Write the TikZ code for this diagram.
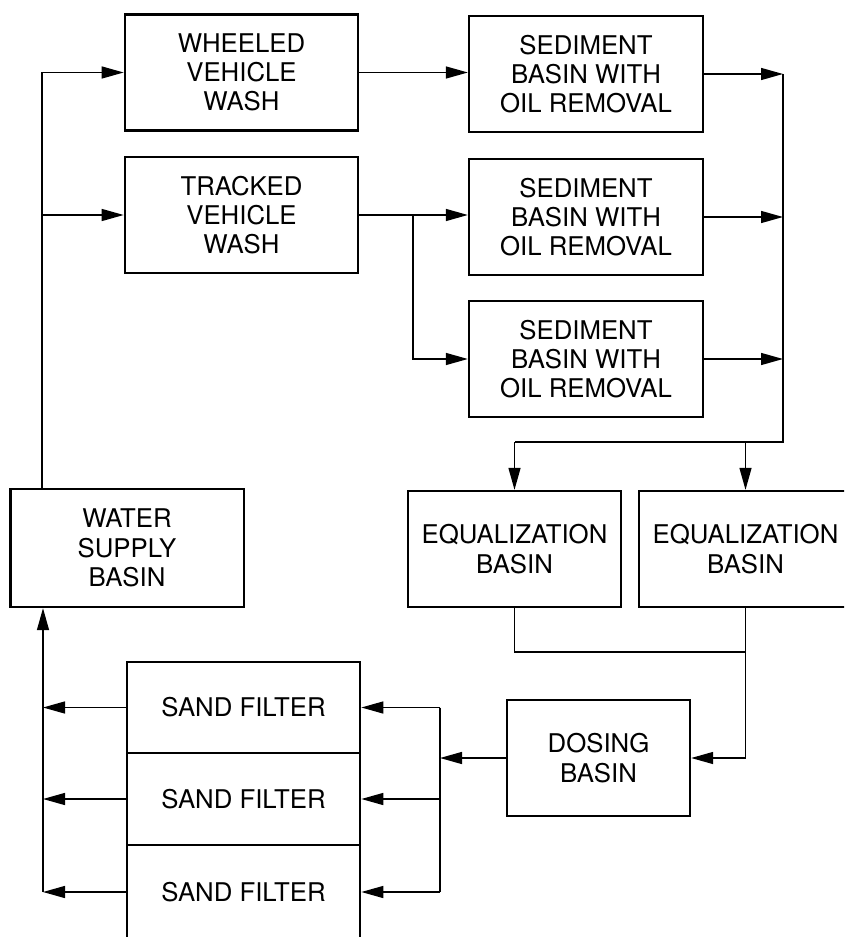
\documentclass[tikz,border=0pt]{standalone}
\usepackage{fontspec}
\setmainfont{TeX Gyre Heros}
\usetikzlibrary{arrows.meta}
\tikzset{
    box/.style={draw, line width=2pt, align=center, inner sep=0pt,
        minimum width=7cm, minimum height=3.48cm,
        font=\fontsize{22}{25}\selectfont},
    pipe/.style={line width=1.2pt},
    flow/.style={pipe, -{Triangle[length=6.6mm, width=3.6mm]}},
}
\begin{document}
\begin{tikzpicture}[x=0.03cm, y=-0.03cm]
    \useasboundingbox (0,0) rectangle (844,937);
    \clip (0,0) rectangle (844,937);
    % 洗车
    \node[box] (wheeled) at (241.5,72.5) {WHEELED\\VEHICLE\\WASH};
    \node[box] (tracked) at (241.5,215) {TRACKED\\VEHICLE\\WASH};
    % 沉淀池
    \node[box, minimum width=7.02cm] (sedA) at (586,74) {SEDIMENT\\BASIN WITH\\OIL REMOVAL};
    \node[box, minimum width=7.02cm] (sedB) at (586,217) {SEDIMENT\\BASIN WITH\\OIL REMOVAL};
    \node[box, minimum width=7.02cm] (sedC) at (586,359) {SEDIMENT\\BASIN WITH\\OIL REMOVAL};
    % 供水池、调节池、投配池
    \node[box, minimum height=3.54cm] (water) at (127,548) {WATER\\SUPPLY\\BASIN};
    \node[box, minimum width=6.39cm] (equA) at (514.5,549) {EQUALIZATION\\BASIN};
    \node[box, minimum width=6.39cm] (equB) at (745.5,549) {EQUALIZATION\\BASIN};
    \node[box, minimum width=5.49cm] (dosing) at (598.5,758) {DOSING\\BASIN};
    % 砂滤池
    \node[box, minimum height=2.73cm] (sandA) at (243.5,707.5) {SAND FILTER};
    \node[box, minimum height=2.76cm] (sandB) at (243.5,799) {SAND FILTER};
    \node[box, minimum height=2.82cm] (sandC) at (243.5,892) {SAND FILTER};
    % 辅助坐标
    \coordinate (feed) at (42,0);
    \coordinate (split) at (413,0);
    \coordinate (merge) at (783,0);
    \coordinate (ring) at (0,442);
    \coordinate (join) at (0,652);
    \coordinate (spread) at (440,0);
    \coordinate (back) at (43,0);
    % 供水 -> 洗车
    \draw[flow] (water.north -| feed) -- (feed |- wheeled.west) -- (wheeled.west);
    \draw[flow] (feed |- tracked.west) -- (tracked.west);
    % 洗车 -> 沉淀池
    \draw[flow] (wheeled.east) -- (wheeled.east -| sedA.west);
    \draw[flow] (tracked.east) -- (tracked.east -| sedB.west);
    \draw[flow] (tracked.east -| split) -- (split |- sedC.west) -- (sedC.west);
    % 沉淀池 -> 调节池
    \foreach \s in {sedA,sedB,sedC}
        \draw[flow] (\s.east) -- (\s.east -| merge);
    \draw[pipe] (sedA.east -| merge) -- (merge |- ring) -- (equA.north |- ring);
    \draw[flow] (equA.north |- ring) -- (equA.north);
    \draw[flow] (equB.north |- ring) -- (equB.north);
    % 调节池 -> 投配池
    \draw[pipe] (equA.south) -- (equA.south |- join) -- (equB.south |- join);
    \draw[flow] (equB.south) -- (equB.south |- dosing.east) -- (dosing.east);
    % 投配池 -> 砂滤池
    \draw[flow] (dosing.west) -- (dosing.west -| spread);
    \draw[pipe] (spread |- sandA.east) -- (spread |- sandC.east);
    \foreach \f in {sandA,sandB,sandC}
        \draw[flow] (spread |- \f.east) -- (\f.east);
    % 砂滤池 -> 供水池
    \foreach \f in {sandA,sandB,sandC}
        \draw[flow] (\f.west) -- (\f.west -| back);
    \draw[flow] (back |- sandC.west) -- (back |- water.south);
\end{tikzpicture}
\end{document}
